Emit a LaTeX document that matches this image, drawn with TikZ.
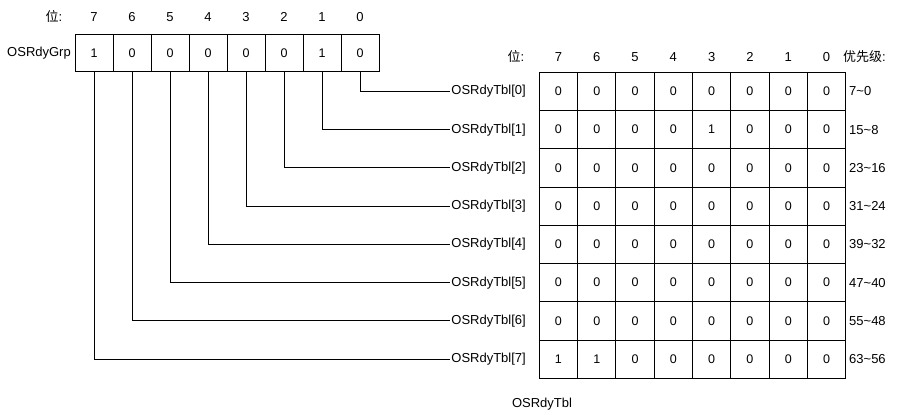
\documentclass[tikz,border=0pt]{standalone}
\usepackage{fontspec}
\setmainfont{Liberation Sans}
\newfontfamily\cjk{Noto Sans CJK SC}
\begin{document}
\begin{tikzpicture}[x=1pt,y=-1pt,
  txt/.style={inner sep=0pt,font=\fontsize{13}{15}\selectfont},
  gcell/.style={draw,line width=1pt,minimum width=38pt,minimum height=37.5pt,inner sep=0pt,font=\fontsize{12.5}{14}\selectfont},
  tcell/.style={draw,line width=1pt,minimum width=38.3pt,minimum height=38.25pt,inner sep=0pt,font=\fontsize{12.5}{14}\selectfont},
  wire/.style={line width=1pt}]
\useasboundingbox (0,0) rectangle (897,415);
% OSRdyGrp
\node[txt,anchor=east] (grplbl) at (71,53) {OSRdyGrp};
\node[txt] (h1) at (54,17) {{\cjk 位}:};
\foreach \b/\v in {7/1,6/0,5/0,4/0,3/0,2/0,1/1,0/0}{
  \pgfmathsetmacro{\cx}{75+38*(7-\b)+19}
  \node[gcell] (g\b) at (\cx,53) {\v};
  \node[txt] (gh\b) at (\cx,17) {\b};
}
% OSRdyTbl header
\node[txt] (h2) at (516,57) {{\cjk 位}:};
\node[txt,anchor=west] (prio) at (843,57) {{\cjk 优先级}:};
\foreach \b in {7,...,0}{
  \pgfmathsetmacro{\cx}{539.3+38.3*(7-\b)+19.15}
  \node[txt] (th\b) at (\cx,57) {\b};
}
% table rows
\foreach \r/\vals/\pr in {0/{0,0,0,0,0,0,0,0}/7\textasciitilde 0,
                          1/{0,0,0,0,1,0,0,0}/15\textasciitilde 8,
                          2/{0,0,0,0,0,0,0,0}/23\textasciitilde 16,
                          3/{0,0,0,0,0,0,0,0}/31\textasciitilde 24,
                          4/{0,0,0,0,0,0,0,0}/39\textasciitilde 32,
                          5/{0,0,0,0,0,0,0,0}/47\textasciitilde 40,
                          6/{0,0,0,0,0,0,0,0}/55\textasciitilde 48,
                          7/{1,1,0,0,0,0,0,0}/63\textasciitilde 56}{
  \pgfmathsetmacro{\cy}{72.3+38.25*\r+19.125}
  \foreach \v [count=\k from 0] in \vals {
    \pgfmathsetmacro{\cx}{539.3+38.3*\k+19.15}
    \node[tcell] (t\r-\k) at (\cx,\cy) {\v};
  }
  \node[txt,anchor=west] (p\r) at (849,\cy) {\pr};
  \node[txt,anchor=east,inner sep=1pt] (l\r) at (527,\cy) {OSRdyTbl[\r]};
  \draw[wire] (g\r.south) |- (l\r.west);
}
\node[txt] (tbllbl) at (542,404) {OSRdyTbl};
\end{tikzpicture}
\end{document}
